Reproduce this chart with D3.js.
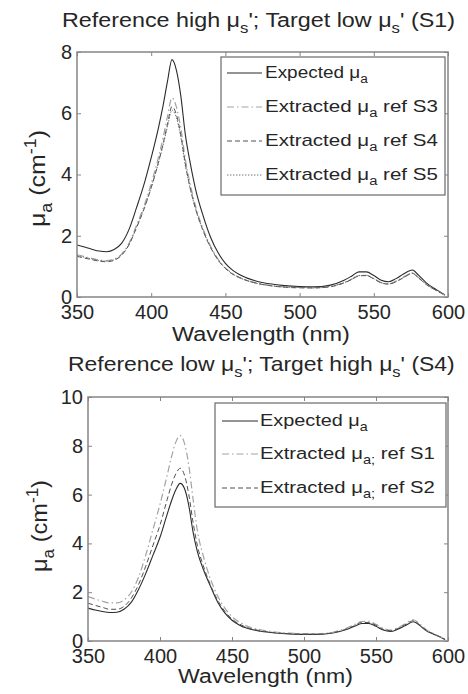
<!DOCTYPE html>
<html><head><meta charset="utf-8">
<script src="https://cdn.jsdelivr.net/npm/d3@7"></script>
<style>
body{margin:0;background:#fff}
svg{display:block}
text{font-family:Arial,"Liberation Sans",Helvetica,sans-serif;fill:#262626}
</style></head><body>
<svg id="chart" width="468" height="694"></svg>
<script>
// ---------- data ----------
const wavelength = [350,355,360,365,370,375,380,385,390,395,400,405,408,411,414,417,420,423,426,430,435,440,445,450,455,460,470,480,490,500,510,520,530,535,540,545,550,555,560,565,570,576,580,585,590,595,598];

// Top panel: Reference high mu_s'; Target low mu_s' (S1)
const topExpected = [1.70,1.63,1.56,1.50,1.48,1.55,1.75,2.20,2.90,3.65,4.55,5.55,6.25,7.05,7.75,7.40,6.55,5.30,4.45,3.50,2.65,1.95,1.45,1.10,0.87,0.72,0.53,0.43,0.37,0.34,0.33,0.38,0.55,0.68,0.82,0.82,0.70,0.55,0.50,0.60,0.75,0.88,0.72,0.48,0.30,0.16,0.07];
const topRefS3 = [1.38,1.32,1.26,1.21,1.19,1.24,1.40,1.75,2.33,2.95,3.70,4.58,5.20,5.90,6.50,6.20,5.50,4.50,3.75,2.95,2.22,1.66,1.24,0.95,0.76,0.63,0.47,0.38,0.33,0.31,0.30,0.34,0.47,0.58,0.70,0.71,0.60,0.47,0.43,0.52,0.65,0.78,0.64,0.43,0.27,0.14,0.06];
const topRefS4 = [1.33,1.27,1.22,1.17,1.15,1.20,1.36,1.70,2.25,2.85,3.57,4.42,5.00,5.65,6.22,5.95,5.28,4.35,3.62,2.86,2.16,1.62,1.21,0.93,0.74,0.62,0.46,0.37,0.32,0.30,0.30,0.33,0.46,0.57,0.69,0.70,0.59,0.46,0.42,0.50,0.63,0.77,0.63,0.42,0.27,0.14,0.06];
const topRefS5 = [1.36,1.30,1.24,1.19,1.17,1.22,1.38,1.72,2.27,2.87,3.58,4.40,4.95,5.57,6.10,5.85,5.20,4.30,3.60,2.86,2.17,1.63,1.22,0.94,0.75,0.62,0.46,0.37,0.33,0.31,0.30,0.34,0.47,0.58,0.70,0.70,0.60,0.47,0.43,0.51,0.64,0.78,0.64,0.43,0.27,0.14,0.06];

// Bottom panel: Reference low mu_s'; Target high mu_s' (S4)
const botExpected = [1.35,1.27,1.21,1.17,1.18,1.30,1.58,2.10,2.75,3.50,4.25,5.20,5.75,6.20,6.46,6.25,5.55,4.45,3.65,2.95,2.25,1.60,1.15,0.85,0.66,0.53,0.40,0.33,0.29,0.27,0.27,0.33,0.48,0.60,0.72,0.72,0.60,0.45,0.39,0.48,0.62,0.79,0.65,0.42,0.28,0.15,0.06];
const botRefS1 = [1.82,1.72,1.63,1.56,1.56,1.68,2.00,2.60,3.50,4.55,5.60,6.80,7.55,8.15,8.42,8.10,7.20,5.80,4.50,3.50,2.55,1.85,1.35,1.00,0.78,0.62,0.46,0.37,0.32,0.30,0.30,0.36,0.54,0.67,0.80,0.81,0.68,0.52,0.45,0.54,0.70,0.87,0.72,0.46,0.30,0.16,0.07];
const botRefS2 = [1.55,1.46,1.38,1.30,1.30,1.42,1.75,2.30,3.05,3.90,4.75,5.80,6.40,6.85,7.08,6.80,6.00,4.85,3.90,3.10,2.30,1.68,1.22,0.90,0.70,0.56,0.42,0.34,0.30,0.28,0.28,0.34,0.50,0.63,0.76,0.76,0.64,0.48,0.42,0.51,0.66,0.83,0.68,0.44,0.29,0.15,0.06];

const xTicks = [350,400,450,500,550,600];
const topYTicks = [0,2,4,6,8];
const botYTicks = [0,2,4,6,8,10];

const topTitle = [{t:"Reference high μ"},{t:"s",sub:true},{t:"'; Target low μ"},{t:"s",sub:true},{t:"' (S1)"}];
const botTitle = [{t:"Reference low μ"},{t:"s",sub:true},{t:"'; Target high μ"},{t:"s",sub:true},{t:"' (S4)"}];
const xLabel = [{t:"Wavelength (nm)"}];
const yLabel = [{t:"μ"},{t:"a",sub:true},{t:" (cm"},{t:"-1",sup:true},{t:")"}];

const topLegend = [
  [{t:"Expected μ"},{t:"a",sub:true}],
  [{t:"Extracted μ"},{t:"a",sub:true},{t:" ref S3"}],
  [{t:"Extracted μ"},{t:"a",sub:true},{t:" ref S4"}],
  [{t:"Extracted μ"},{t:"a",sub:true},{t:" ref S5"}]
];
const botLegend = [
  [{t:"Expected μ"},{t:"a",sub:true}],
  [{t:"Extracted μ"},{t:"a;",sub:true},{t:" ref S1"}],
  [{t:"Extracted μ"},{t:"a;",sub:true},{t:" ref S2"}]
];

// ---------- styles ----------
const styles = {
  solid:   {stroke:"#2b2b2b", dash:null,          w:1.1},
  dashdot: {stroke:"#a3a3a3", dash:"7,3,1.5,3",   w:1.2},
  dashed:  {stroke:"#505050", dash:"5,3",         w:1.0},
  dotted:  {stroke:"#707070", dash:"1.4,1.6",     w:1.0}
};

const svg = d3.select("#chart");

function rich(g, segs, size){
  const t = g.append("text").attr("font-size", size);
  let shift = 0;
  segs.forEach(s=>{
    const target = s.sub ? 0.32*size : (s.sup ? -0.42*size : 0);
    t.append("tspan").text(s.t)
      .attr("dy", target - shift)
      .attr("font-size", (s.sub||s.sup) ? size*0.72 : size);
    shift = target;
  });
  return t;
}
function place(t, x, y, width, rot){
  const bb = t.node().getBBox();
  const sx = width / bb.width;
  t.attr("x", -bb.x).attr("transform", `translate(${x},${y})` + (rot ? " rotate(-90)" : "") + ` scale(${sx},1)`);
  return t;
}

function panel(cfg){
  const x = d3.scaleLinear().domain([350,600]).range([cfg.x0, cfg.x1]);
  const y = d3.scaleLinear().domain([0, cfg.ymax]).range([cfg.y1, cfg.y0]);
  const g = svg.append("g");
  const clipId = "clip" + cfg.id;
  g.append("clipPath").attr("id", clipId).append("rect")
    .attr("x", cfg.x0).attr("y", cfg.y0).attr("width", cfg.x1-cfg.x0).attr("height", cfg.y1-cfg.y0);

  // lines
  const line = d3.line().x((d,i)=>x(wavelength[i])).y(d=>y(d)).curve(d3.curveMonotoneX);
  const lg = g.append("g").attr("clip-path", `url(#${clipId})`);
  cfg.series.forEach(s=>{
    const st = styles[s.style];
    lg.append("path").attr("d", line(s.values)).attr("fill","none")
      .attr("stroke", st.stroke).attr("stroke-width", st.w)
      .attr("stroke-dasharray", st.dash);
  });

  // axes
  const axColor = "#858585";
  const styleAxis = a => { a.select(".domain").remove(); a.selectAll(".tick line").attr("stroke", axColor).attr("stroke-width",1); a.selectAll("text").attr("font-size",20).attr("fill","#262626"); };
  g.append("g").attr("transform",`translate(0,${cfg.y1})`)
    .call(d3.axisBottom(x).tickValues(xTicks).tickSizeInner(-4).tickSizeOuter(0).tickPadding(8).tickFormat(d3.format("d"))).call(styleAxis);
  g.append("g").attr("transform",`translate(0,${cfg.y0})`)
    .call(d3.axisTop(x).tickValues(xTicks).tickSizeInner(-4).tickSizeOuter(0).tickFormat("")).call(styleAxis);
  g.append("g").attr("transform",`translate(${cfg.x0},0)`)
    .call(d3.axisLeft(y).tickValues(cfg.yTicks).tickSizeInner(-4).tickSizeOuter(0).tickPadding(5).tickFormat(d3.format("d"))).call(styleAxis);
  g.append("g").attr("transform",`translate(${cfg.x1},0)`)
    .call(d3.axisRight(y).tickValues(cfg.yTicks).tickSizeInner(-4).tickSizeOuter(0).tickFormat("")).call(styleAxis);
  g.selectAll("g.tick text").attr("font-family",null);

  // legend
  const L = cfg.legend;
  const leg = g.append("g");
  leg.append("rect").attr("x",L.x0).attr("y",L.y0).attr("width",L.x1-L.x0).attr("height",L.y1-L.y0)
    .attr("fill","#fff").attr("stroke","#6a6a6a").attr("stroke-width",1.2);
  L.items.forEach((segs,i)=>{
    const st = styles[cfg.series[i].style];
    const ly = L.rows[i];
    leg.append("line").attr("x1",L.lx0).attr("x2",L.lx1).attr("y1",ly).attr("y2",ly)
      .attr("stroke",st.stroke).attr("stroke-width",st.w).attr("stroke-dasharray",st.dash);
    const t = rich(leg, segs, 17);
    place(t, L.tx, ly+5, L.widths[i]);
  });

  // box
  g.append("rect").attr("x",cfg.x0).attr("y",cfg.y0).attr("width",cfg.x1-cfg.x0).attr("height",cfg.y1-cfg.y0)
    .attr("fill","none").attr("stroke",axColor).attr("stroke-width",1.5);

  // title & labels
  place(rich(g, cfg.title, 20), cfg.titleX, cfg.titleY, cfg.titleW);
  place(rich(g, xLabel, 21), cfg.xlabX, cfg.xlabY, cfg.xlabW);
  place(rich(g, yLabel, 22), cfg.ylabX, cfg.ylabY, cfg.ylabW, true);
}

panel({
  id:"top", x0:77, x1:448, y0:52, y1:297, ymax:8, yTicks:topYTicks,
  series:[{values:topExpected,style:"solid"},{values:topRefS3,style:"dashdot"},{values:topRefS4,style:"dashed"},{values:topRefS5,style:"dotted"}],
  legend:{x0:221,x1:445,y0:57,y1:195, rows:[73,107,141,175], lx0:227, lx1:262, tx:265, items:topLegend, widths:[103,173,173,173]},
  title:topTitle, titleX:62, titleY:27, titleW:393,
  xlabX:172, xlabY:341, xlabW:178,
  ylabX:45, ylabY:227, ylabW:97
});
panel({
  id:"bot", x0:88, x1:448, y0:397, y1:641, ymax:10, yTicks:botYTicks,
  series:[{values:botExpected,style:"solid"},{values:botRefS1,style:"dashdot"},{values:botRefS2,style:"dashed"}],
  legend:{x0:215,x1:446,y0:403,y1:507, rows:[421,454,488], lx0:222, lx1:258, tx:260, items:botLegend, widths:[108,175,175]},
  title:botTitle, titleX:68, titleY:371, titleW:387,
  xlabX:178, xlabY:683, xlabW:175,
  ylabX:47, ylabY:572, ylabW:92
});
</script>
</body></html>
